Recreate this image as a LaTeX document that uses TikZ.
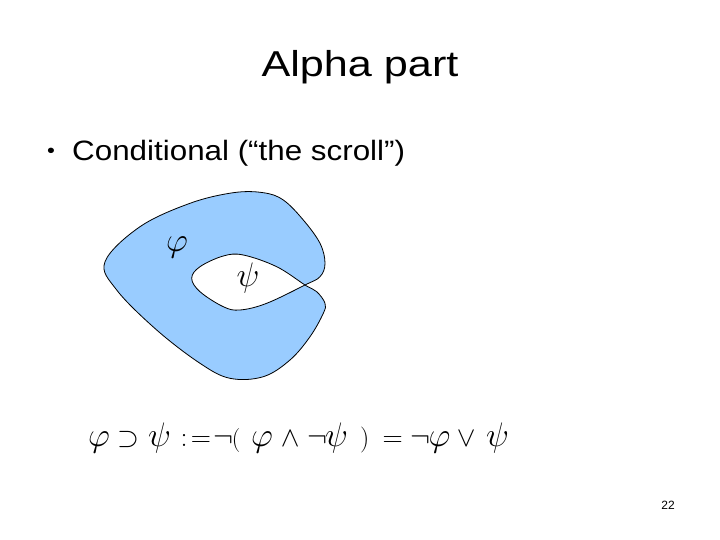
\RequirePackage{fix-cm}
\documentclass[tikz,border=0pt]{standalone}
\usepackage{fontspec}
\setmainfont{Liberation Sans}
\newcommand{\glat}[2]{\makebox[0pt][l]{\hspace*{#1pt}$#2$}}
\newcommand{\glc}[3]{\makebox[0pt][l]{\hspace*{#1pt}\makebox[0pt][c]{\fontsize{#2}{#2}\selectfont$#3$}}}
\begin{document}
\begin{tikzpicture}[x=1pt,y=-1pt,
  scrollshape/.style={draw=black,line width=0.8pt,fill={rgb,255:red,153;green,204;blue,255},even odd rule},
  titletext/.style={font=\fontsize{36}{40}\selectfont,xscale=1.2,inner sep=0pt},
  bullettext/.style={font=\fontsize{28}{32}\selectfont,xscale=1.12,inner sep=0pt,anchor=base west},
  mathlabel/.style={font=\fontsize{34}{38}\selectfont,inner sep=0pt}]
\useasboundingbox (0,0) rectangle (720,540);
\node[titletext,anchor=base] (title) at (360,77) {Alpha part};
\node[bullettext,font=\fontsize{20}{24}\selectfont] (bul) at (47,158) {•};
\node[bullettext] (item) at (72,161) {Conditional (“the scroll”)};
\draw[scrollshape] plot[smooth cycle,tension=0.6] coordinates {
 (305,285) (320,276.7) (325,263.3) (320,243.3) (303.3,220) (283.3,200)
 (263.3,192.7) (233.3,192.7) (190,203.3) (140,226.7) (105,261.7) (116.7,290)
 (156.7,330) (200,363.3) (230,378.3) (263.3,376.7) (290,360) (310,336.7)
 (323.3,313.3) (325,303.3) (316.7,291.7) (305,285) (276.7,266.7) (243.3,255)
 (223.3,256) (200,266.7) (191.7,278.3) (200,291.7) (223.3,306.7) (240,310)
 (266.7,303.3)};
\node[mathlabel] (phi) at (177,247) {$\varphi$};
\node[mathlabel] (psi) at (248,278) {$\psi$};
\node[mathlabel,anchor=base west] (formula) at (88,446)
 {\glat{0}{\varphi}\glc{39.8}{28}{\supset}\glat{60}{\psi}\glc{96}{28}{:}\glc{112.9}{28}{=}%
  \glc{135}{30}{\neg}\glc{147.9}{24}{(}\glat{163}{\varphi}\glc{202}{28}{\wedge}%
  \glc{229}{30}{\neg}\glat{237}{\psi}\glc{276.5}{26}{)}\glc{304.5}{28}{=}%
  \glc{332}{30}{\neg}\glat{340.5}{\varphi}\glc{377.9}{28}{\vee}\glat{398}{\psi}%
  \hspace*{424pt}};
\node[font=\fontsize{12}{14}\selectfont,anchor=base,inner sep=0pt] (page) at (668,509) {22};
\end{tikzpicture}
\end{document}
